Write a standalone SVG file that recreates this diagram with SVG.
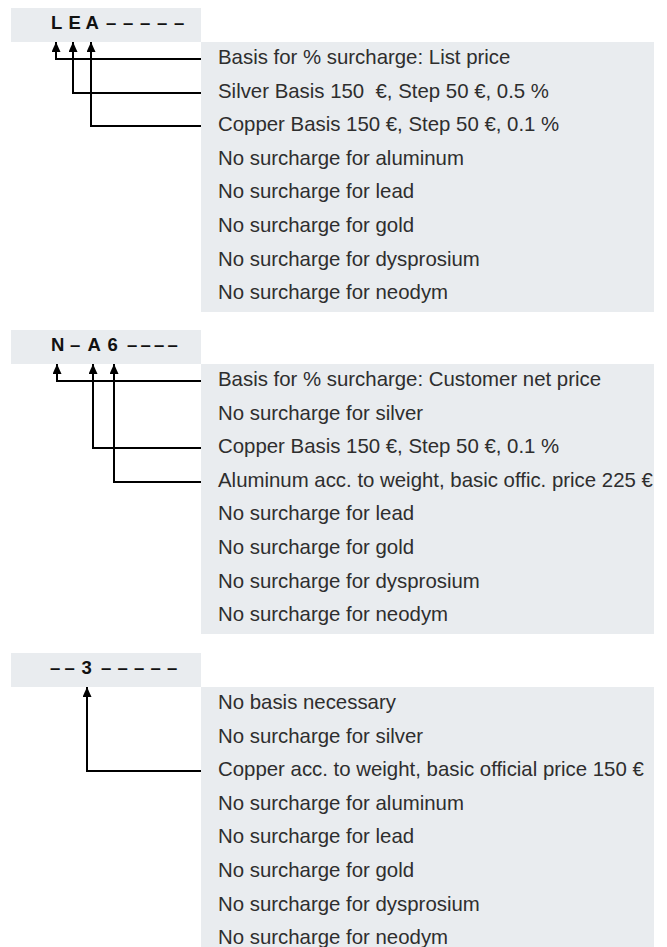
<svg xmlns="http://www.w3.org/2000/svg" width="667" height="947" viewBox="0 0 667 947">
<style>
.band{fill:#e9ecef}
.hd{font-family:"Liberation Sans",Arial,sans-serif;font-size:18.5px;font-weight:bold;fill:#111}
.row{font-family:"Liberation Sans",Arial,sans-serif;font-size:20.4px;fill:#2e2e2e}
.conn{fill:none;stroke:#000;stroke-width:2}
</style>
<defs>
<marker id="ah" markerUnits="userSpaceOnUse" viewBox="0 0 10 9" markerWidth="10" markerHeight="9" refX="10" refY="4.5" orient="auto">
<path d="M0,0 L10,4.5 L0,9 Z" fill="#000"/>
</marker>
</defs>
<rect width="667" height="947" fill="#fff"/>

<g id="section1">
<rect class="band" x="11" y="8" width="190" height="34"/>
<rect class="band" x="201" y="42" width="453" height="270"/>
<text class="hd" y="28.5" x="51 68.5 85.5 106 123 140 157 174">LEA–––––</text>
<text class="row" x="218" y="64">Basis for % surcharge: List price</text>
<text class="row" x="218" y="97.6" xml:space="preserve">Silver Basis 150  €, Step 50 €, 0.5 %</text>
<text class="row" x="218" y="131.2">Copper Basis 150 €, Step 50 €, 0.1 %</text>
<text class="row" x="218" y="164.8">No surcharge for aluminum</text>
<text class="row" x="218" y="198.4">No surcharge for lead</text>
<text class="row" x="218" y="232">No surcharge for gold</text>
<text class="row" x="218" y="265.6">No surcharge for dysprosium</text>
<text class="row" x="218" y="299.2">No surcharge for neodym</text>
</g>

<g id="section2">
<rect class="band" x="11" y="330" width="190" height="34"/>
<rect class="band" x="201" y="364" width="453" height="270"/>
<text class="hd" y="350.5" x="51 70 87.5 107.5 127 140.5 154 167.5">N–A6––––</text>
<text class="row" x="218" y="386">Basis for % surcharge: Customer net price</text>
<text class="row" x="218" y="419.6">No surcharge for silver</text>
<text class="row" x="218" y="453.2">Copper Basis 150 €, Step 50 €, 0.1 %</text>
<text class="row" x="218" y="486.8">Aluminum acc. to weight, basic offic. price 225 €</text>
<text class="row" x="218" y="520.4">No surcharge for lead</text>
<text class="row" x="218" y="554">No surcharge for gold</text>
<text class="row" x="218" y="587.6">No surcharge for dysprosium</text>
<text class="row" x="218" y="621.2">No surcharge for neodym</text>
</g>

<g id="section3">
<rect class="band" x="11" y="653" width="190" height="34"/>
<rect class="band" x="201" y="687" width="453" height="270"/>
<text class="hd" y="673.5" x="50 64.5 81.5 101 117.5 134 150.5 167">––3–––––</text>
<text class="row" x="218" y="709">No basis necessary</text>
<text class="row" x="218" y="742.6">No surcharge for silver</text>
<text class="row" x="218" y="776.2">Copper acc. to weight, basic official price 150 €</text>
<text class="row" x="218" y="809.8">No surcharge for aluminum</text>
<text class="row" x="218" y="843.4">No surcharge for lead</text>
<text class="row" x="218" y="877">No surcharge for gold</text>
<text class="row" x="218" y="910.6">No surcharge for dysprosium</text>
<text class="row" x="218" y="944.2">No surcharge for neodym</text>
</g>

<g id="connectors">
<path class="conn" marker-end="url(#ah)" d="M201,59 H56 V42"/>
<path class="conn" marker-end="url(#ah)" d="M201,93 H73 V42"/>
<path class="conn" marker-end="url(#ah)" d="M201,126 H91 V42"/>
<path class="conn" marker-end="url(#ah)" d="M201,381 H57 V364"/>
<path class="conn" marker-end="url(#ah)" d="M201,448 H93 V364"/>
<path class="conn" marker-end="url(#ah)" d="M201,482 H114 V364"/>
<path class="conn" marker-end="url(#ah)" d="M201,771 H87 V687"/>
</g>
</svg>
